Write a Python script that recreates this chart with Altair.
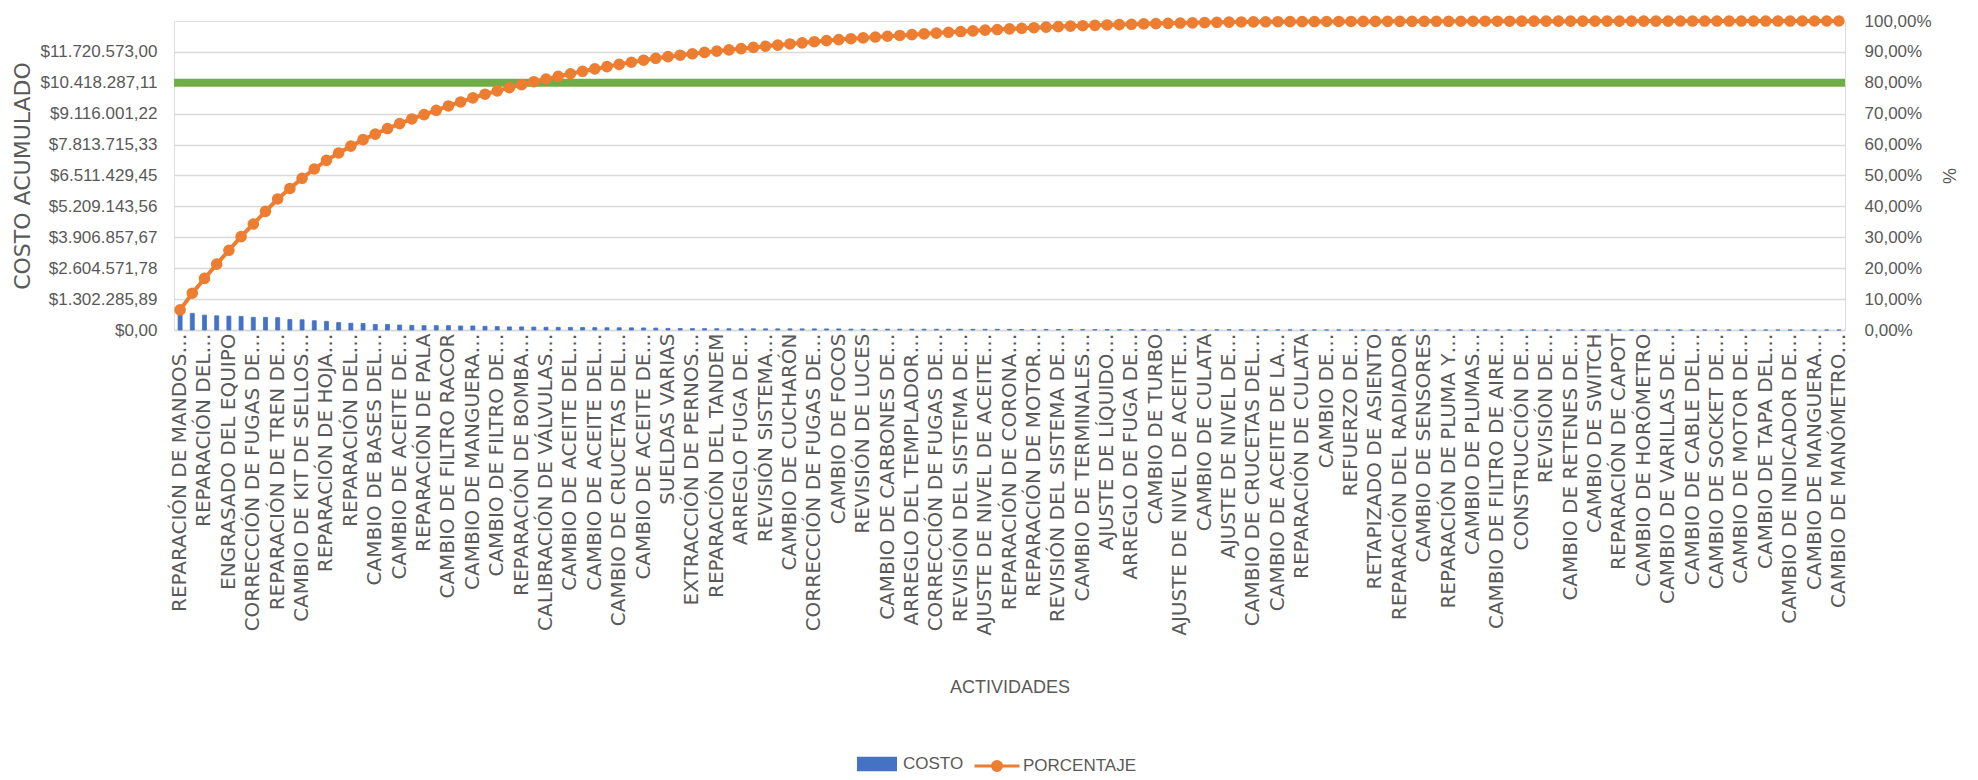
import json
import altair as alt
import pandas as pd

# ---- data ----
labels = [
    "REPARACIÓN DE MANDOS…", "REPARACIÓN DEL…", "ENGRASADO DEL EQUIPO", "CORRECCIÓN DE FUGAS DE…",
    "REPARACIÓN DE TREN DE…", "CAMBIO DE KIT DE SELLOS…", "REPARACIÓN DE HOJA…", "REPARACIÓN DEL…",
    "CAMBIO DE BASES DEL…", "CAMBIO DE ACEITE DE…", "REPARACIÓN DE PALA", "CAMBIO DE FILTRO RACOR",
    "CAMBIO DE MANGUERA…", "CAMBIO DE FILTRO DE…", "REPARACIÓN DE BOMBA…", "CALIBRACIÓN DE VÁLVULAS…",
    "CAMBIO DE ACEITE DEL…", "CAMBIO DE ACEITE DEL…", "CAMBIO DE CRUCETAS DEL…", "CAMBIO DE ACEITE DE…",
    "SUELDAS VARIAS", "EXTRACCIÓN DE PERNOS…", "REPARACIÓN DEL TANDEM", "ARREGLO FUGA DE…",
    "REVISIÓN SISTEMA…", "CAMBIO DE CUCHARÓN", "CORRECCIÓN DE FUGAS DE…", "CAMBIO DE FOCOS",
    "REVISIÓN DE LUCES", "CAMBIO DE CARBONES DE…", "ARREGLO DEL TEMPLADOR…", "CORRECCIÓN DE FUGAS DE…",
    "REVISIÓN DEL SISTEMA DE…", "AJUSTE DE NIVEL DE ACEITE…", "REPARACIÓN DE CORONA…", "REPARACIÓN DE MOTOR…",
    "REVISIÓN DEL SISTEMA DE…", "CAMBIO DE TERMINALES…", "AJUSTE DE LÍQUIDO…", "ARREGLO DE FUGA DE…",
    "CAMBIO DE TURBO", "AJUSTE DE NIVEL DE ACEITE…", "CAMBIO DE CULATA", "AJUSTE DE NIVEL DE…",
    "CAMBIO DE CRUCETAS DEL…", "CAMBIO DE ACEITE DE LA…", "REPARACIÓN DE CULATA", "CAMBIO DE…",
    "REFUERZO DE…", "RETAPIZADO DE ASIENTO", "REPARACIÓN DEL RADIADOR", "CAMBIO DE SENSORES",
    "REPARACIÓN DE PLUMA Y…", "CAMBIO DE PLUMAS…", "CAMBIO DE FILTRO DE AIRE…", "CONSTRUCCIÓN DE…",
    "REVISIÓN DE…", "CAMBIO DE RETENES DE…", "CAMBIO DE SWITCH", "REPARACIÓN DE CAPOT",
    "CAMBIO DE HORÓMETRO", "CAMBIO DE VARILLAS DE…", "CAMBIO DE CABLE DEL…", "CAMBIO DE SOCKET DE…",
    "CAMBIO DE MOTOR DE…", "CAMBIO DE TAPA DEL…", "CAMBIO DE INDICADOR DE…", "CAMBIO DE MANGUERA…",
    "CAMBIO DE MANÓMETRO…",
]

costs = [
    846486, 703234, 625097, 599052, 586029, 573006, 533937, 533937, 520914, 442777,
    429754, 390686, 364640, 312549, 286503, 273480, 234411, 234411, 208366, 195343,
    182320, 182320, 182320, 169297, 169297, 156274, 143251, 130229, 130229, 123717,
    114601, 111997, 109392, 104183, 98974, 96369, 93765, 91160, 85951, 80742,
    67719, 62510, 59905, 57301, 54696, 53394, 52091, 50789, 49487, 48185,
    48185, 46882, 46882, 45580, 44278, 36464, 35162, 35162, 33859, 33859,
    33859, 33859, 32557, 32557, 32557, 28650, 28650, 27348, 27348, 24743,
    23441, 23441, 23441, 22139, 16930, 15627, 15627, 14325, 14325, 14325,
    13023, 11721, 11721, 10418, 10418, 9116, 9116, 7814,
    3907, 3256, 2605, 2605, 2344, 2084, 1823, 1563, 1433, 1302,
    790, 785, 781, 778, 775, 770, 766, 760, 755, 750,
    540, 535, 528, 521, 515, 510, 500, 492, 485, 478,
    300, 290, 280, 270, 262, 255, 250, 245, 240, 235,
    200, 195, 190, 185, 182, 178, 175, 170, 165,
]

total_cost = 13022858.89
cost_ticks = [0, 1302285.89, 2604571.78, 3906857.67, 5209143.56, 6511429.45,
              7813715.33, 9116001.22, 10418287.11, 11720573.00]
pct_ticks = [0, 0.1, 0.2, 0.3, 0.4, 0.5, 0.6, 0.7, 0.8, 0.9, 1.0]
threshold_cost = [10418287.11]
series_names = ["COSTO", "PORCENTAJE"]

# ---- styling ----
BLUE, ORANGE, GREEN = "#4472C4", "#ED7D31", "#70AD47"
GRID = "#D9D9D9"
TXT = "#595959"
NARROW = "Liberation Sans, Arial, sans-serif"
WIDE = "DejaVu Sans, sans-serif"

W, H = 1671, 309
PAD_L, PAD_T = 174, 21

df = pd.DataFrame({"idx": list(range(len(costs))), "costo": costs})
df["porcentaje"] = df["costo"].cumsum() / df["costo"].sum()
df["s1"] = series_names[0]
df["s2"] = series_names[1]

thr = pd.DataFrame({"costo": threshold_cost})

label_expr = json.dumps(labels, ensure_ascii=False) + "[datum.value / 2]"

x_enc = alt.X(
    "idx:O",
    scale=alt.Scale(paddingInner=0, paddingOuter=0),
    axis=alt.Axis(
        values=list(range(0, len(costs), 2)),
        labelExpr=label_expr,
        labelAngle=270,
        labelAlign="right",
        labelBaseline="middle",
        labelPadding=3,
        labelFont=WIDE,
        labelFontSize=20,
        labelColor=TXT,
        labelLimit=1000,
        labelOverlap=False,
        ticks=False,
        grid=False,
        domainColor=GRID,
        domainWidth=1.5,
        title="ACTIVIDADES",
        titleFont=NARROW,
        titleFontSize=18,
        titleFontWeight="normal",
        titleColor=TXT,
        titleX=W / 2,
        titleY=357,
        titleBaseline="middle",
        titleAlign="center",
    ),
)

cost_scale = alt.Scale(domain=[0, total_cost], nice=False, zero=True)
cost_axis = alt.Axis(
    values=cost_ticks,
    format="$,.2f",
    grid=True,
    gridColor=GRID,
    gridWidth=1.5,
    domain=False,
    ticks=False,
    labelOverlap=False,
    labelFont=NARROW,
    labelFontSize=17,
    labelColor=TXT,
    labelPadding=17,
    title="COSTO ACUMULADO",
    titleFont=WIDE,
    titleFontSize=22,
    titleFontWeight="normal",
    titleColor=TXT,
    titleAngle=270,
    titleX=-152,
    titleY=H / 2,
    titleAlign="center",
    titleBaseline="middle",
)

bars = alt.Chart(df).mark_bar(size=4, stroke=BLUE, strokeWidth=0.8).encode(
    x=x_enc,
    y=alt.Y("costo:Q", scale=cost_scale, axis=cost_axis),
    color=alt.Color(
        "s1:N",
        scale=alt.Scale(domain=[series_names[0]], range=[BLUE]),
        legend=alt.Legend(
            title=None,
            orient="none",
            legendX=683,
            legendY=723,
            symbolType="M-1,-0.36H1V0.36H-1Z",
            symbolSize=1600,
            symbolStrokeWidth=0,
            labelFont=NARROW,
            labelFontSize=17,
            labelColor=TXT,
            labelOffset=6,
        ),
    ),
)

rule = alt.Chart(thr).mark_rule(color=GREEN, strokeWidth=8).encode(
    y=alt.Y("costo:Q", scale=cost_scale, axis=cost_axis)
)

line = alt.Chart(df).mark_line(
    strokeWidth=4,
    point=alt.OverlayMarkDef(filled=True, size=135),
).encode(
    x=alt.X("idx:O"),
    y=alt.Y(
        "porcentaje:Q",
        scale=alt.Scale(domain=[0, 1], nice=False),
        axis=alt.Axis(
            orient="right",
            values=pct_ticks,
            format=".2%",
            grid=False,
            domain=False,
            ticks=False,
            labelOverlap=False,
            labelFont=NARROW,
            labelFontSize=17,
            labelColor=TXT,
            labelPadding=19,
            title="%",
            titleFont=NARROW,
            titleFontSize=18,
            titleFontWeight="normal",
            titleColor=TXT,
            titleAngle=270,
            titleX=105,
            titleY=H / 2,
            titleAlign="center",
            titleBaseline="middle",
        ),
    ),
    color=alt.Color(
        "s2:N",
        scale=alt.Scale(domain=[series_names[1]], range=[ORANGE]),
        legend=alt.Legend(
            title=None,
            orient="none",
            legendX=799,
            legendY=721,
            symbolType="M-1,0H1M-0.2,0A0.2,0.2 0 1,0 0.2,0A0.2,0.2 0 1,0 -0.2,0Z",
            symbolSize=2025,
            symbolStrokeWidth=3,
            symbolFillColor=ORANGE,
            labelFont=NARROW,
            labelFontSize=17,
            labelColor=TXT,
            labelOffset=2,
        ),
    ),
)

left = alt.layer(bars, rule)

chart = (
    alt.layer(left, line)
    .resolve_scale(y="independent", color="independent")
    .resolve_legend(color="independent")
    .properties(
        width=W,
        height=H,
        autosize=alt.AutoSizeParams(type="none"),
        padding={"left": PAD_L, "top": PAD_T, "right": 1978 - PAD_L - W, "bottom": 780 - PAD_T - H},
        background="white",
    )
    .configure_view(strokeWidth=0)
    .configure(
        locale=alt.Locale(
            number=alt.NumberLocale(decimal=",", thousands=".", grouping=[3], currency=["$", ""])
        )
    )
)

chart.save("out.html", embed_options={"renderer": "svg", "actions": False})
